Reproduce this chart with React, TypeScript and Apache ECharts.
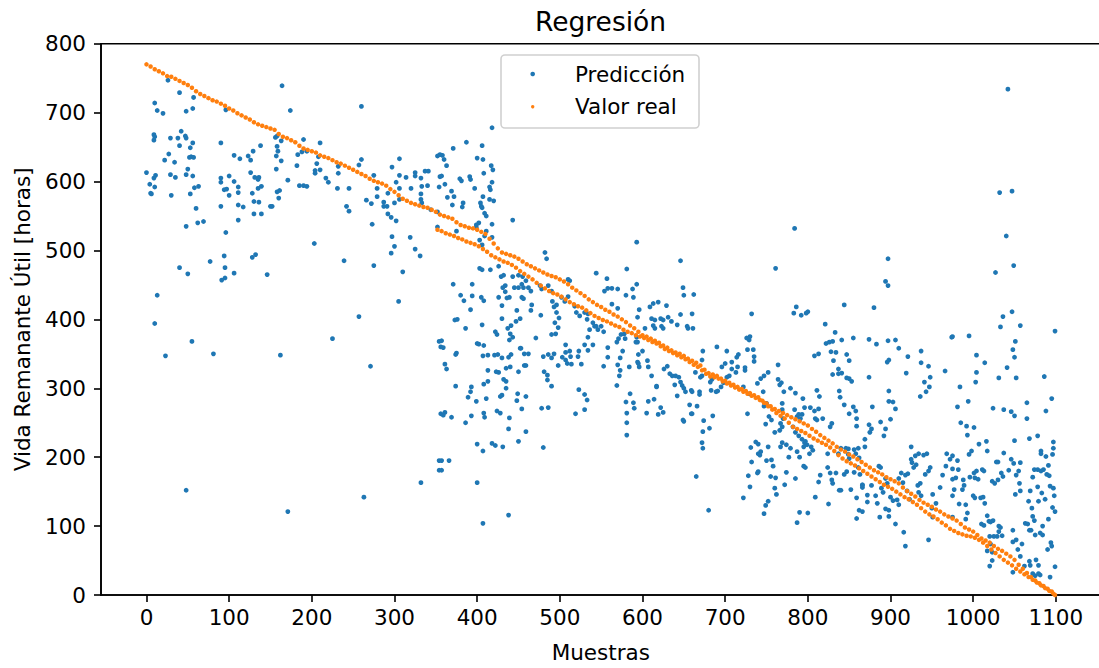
import React, { useEffect, useRef } from "react";
import * as echarts from "echarts";

const xTicks = [0, 100, 200, 300, 400, 500, 600, 700, 800, 900, 1000, 1100];

// Predicción (blue), grouped by x range
const pred0to150 = [[26,747],[40,729],[10,714],[57,722],[13,703],[20,699],[48,702],[56,706],[96,704],[42,673],[9,668],[10,665],[9,660],[29,663],[38,663],[47,666],[48,663],[40,652],[53,649],[56,656],[27,640],[22,631],[34,628],[54,636],[57,635],[52,635],[50,618],[0,613],[11,609],[9,605],[29,610],[35,606],[48,610],[56,608],[4,596],[10,592],[5,583],[6,582],[30,580],[58,591],[63,593],[53,582],[60,561],[48,535],[62,540],[69,542],[90,656],[106,638],[113,633],[123,637],[129,644],[126,631],[138,652],[90,605],[90,599],[100,608],[94,588],[97,589],[106,600],[111,592],[100,580],[111,584],[126,613],[131,606],[136,606],[135,603],[139,593],[135,590],[128,583],[130,571],[136,570],[117,563],[111,566],[90,564],[130,553],[139,553],[111,544],[96,526],[150,564],[40,475],[50,466],[77,484],[94,492],[95,475],[91,457],[95,460],[106,467],[128,490],[132,494],[146,465],[13,435],[10,394],[55,368],[23,347],[81,350],[48,152]];

const pred150to356 = [[164,739],[174,703],[260,709],[156,664],[158,666],[163,659],[158,651],[159,644],[157,637],[163,630],[157,618],[171,602],[158,585],[161,587],[160,576],[152,564],[190,661],[183,639],[188,643],[194,644],[182,623],[185,594],[190,594],[194,593],[210,656],[208,636],[206,626],[204,616],[204,612],[210,617],[217,605],[220,599],[232,622],[232,612],[231,590],[245,590],[242,564],[245,557],[257,624],[260,632],[266,573],[272,568],[275,609],[279,590],[279,578],[273,538],[287,570],[287,564],[291,564],[292,583],[297,621],[292,553],[296,548],[302,543],[300,569],[306,633],[306,609],[302,599],[306,590],[306,574],[314,606],[320,590],[325,613],[325,608],[332,605],[337,615],[341,615],[333,593],[340,594],[332,582],[332,574],[333,569],[344,559],[352,637],[355,639],[355,607],[354,592],[352,556],[352,534],[297,520],[300,506],[296,496],[319,519],[325,502],[331,492],[203,510],[239,485],[275,478],[310,469],[305,426],[257,404],[225,372],[162,348],[271,332],[354,368],[356,360],[356,263],[354,195],[354,181],[332,163],[263,142],[171,121]];

const pred356to560 = [[418,678],[387,657],[371,648],[406,652],[358,638],[360,632],[363,623],[400,634],[407,632],[417,623],[419,617],[357,608],[408,612],[379,604],[381,601],[391,607],[392,603],[361,596],[418,599],[397,590],[415,592],[416,588],[369,586],[372,578],[364,577],[407,578],[415,574],[420,572],[383,569],[382,563],[370,566],[404,569],[405,564],[406,562],[409,554],[411,550],[399,537],[399,533],[402,540],[418,538],[443,544],[375,528],[411,528],[409,521],[418,519],[403,515],[406,508],[482,497],[484,488],[403,474],[406,472],[416,472],[426,477],[429,462],[432,464],[434,449],[431,446],[434,440],[436,431],[426,432],[430,420],[443,462],[445,446],[450,446],[454,451],[456,446],[450,464],[455,462],[459,456],[462,446],[465,441],[454,432],[456,430],[439,432],[448,413],[452,401],[447,397],[466,421],[465,413],[477,406],[471,373],[441,391],[422,382],[424,378],[430,401],[437,387],[440,379],[443,374],[439,370],[406,392],[453,358],[452,358],[457,350],[462,350],[457,333],[441,349],[438,345],[430,344],[425,349],[421,348],[413,348],[407,347],[408,362],[402,364],[413,326],[426,323],[423,324],[435,329],[440,331],[450,324],[459,333],[408,306],[413,310],[432,313],[435,310],[435,300],[430,290],[428,288],[411,285],[399,281],[389,287],[392,295],[393,302],[374,303],[386,250],[393,260],[369,258],[408,264],[409,258],[424,267],[428,264],[439,257],[449,292],[448,282],[454,270],[459,288],[438,241],[459,237],[450,223],[431,215],[418,220],[422,217],[400,219],[407,209],[400,163],[407,104],[438,116],[480,214],[478,271],[486,272],[481,324],[485,319],[485,312],[490,303],[480,346],[486,349],[490,344],[493,350],[498,333],[503,345],[507,352],[512,354],[507,341],[509,336],[513,346],[514,335],[523,354],[522,346],[526,335],[530,363],[534,355],[540,363],[507,363],[490,378],[495,379],[498,388],[499,402],[494,395],[496,410],[496,421],[491,426],[493,418],[486,449],[490,441],[476,449],[478,444],[502,432],[510,433],[506,426],[510,458],[512,456],[518,419],[520,410],[524,405],[530,410],[533,400],[534,408],[540,395],[542,390],[544,390],[546,385],[550,390],[553,382],[536,385],[534,374],[544,467],[557,459],[558,445],[554,441],[558,359],[553,332],[558,345],[519,263],[523,298],[530,291],[533,283],[530,269],[357,369],[359,359],[361,335],[363,328],[375,351],[374,349],[357,195],[357,181],[366,195],[400,365],[394,451],[394,434],[371,451],[380,435],[384,427],[392,414],[373,399],[376,400],[386,387],[405,432],[408,427],[361,265],[359,261]];

const pred560to770 = [[593,512],[581,473],[646,485],[761,474],[593,451],[588,444],[580,435],[589,432],[649,446],[650,435],[662,436],[563,445],[570,444],[563,422],[570,416],[596,414],[594,403],[609,418],[613,423],[619,425],[611,401],[615,399],[622,401],[625,399],[629,420],[631,403],[635,397],[646,407],[660,408],[642,392],[654,390],[655,387],[661,387],[613,391],[615,387],[623,390],[625,387],[603,387],[593,374],[594,367],[592,367],[569,367],[571,372],[574,378],[579,372],[578,379],[576,354],[573,344],[595,349],[600,354],[594,338],[570,334],[573,326],[572,318],[569,304],[584,331],[595,336],[596,331],[606,340],[607,331],[611,318],[617,302],[626,328],[630,332],[633,321],[636,318],[639,305],[640,318],[644,316],[646,309],[648,304],[642,289],[650,300],[652,295],[659,297],[660,295],[650,252],[657,276],[660,263],[666,274],[669,295],[669,291],[672,318],[670,316],[672,341],[673,354],[664,323],[684,313],[682,309],[683,297],[690,360],[689,295],[691,296],[695,302],[698,308],[702,316],[705,318],[696,331],[700,336],[708,338],[708,328],[714,345],[716,349],[715,331],[713,323],[702,354],[724,330],[724,326],[726,373],[729,370],[730,375],[727,356],[734,356],[732,408],[735,346],[735,339],[722,302],[729,292],[727,263],[739,307],[743,314],[747,318],[752,323],[747,274],[750,278],[746,295],[764,334],[764,313],[766,305],[768,308],[771,295],[753,259],[756,254],[749,248],[760,236],[766,239],[767,249],[769,269],[770,256],[767,215],[737,222],[740,219],[743,208],[740,205],[742,203],[731,214],[732,193],[728,173],[730,157],[722,141],[740,179],[739,177],[752,215],[750,195],[756,196],[758,187],[755,172],[761,170],[760,155],[762,146],[752,136],[749,130],[747,118],[680,123],[665,172],[672,221],[673,213],[673,237],[681,242],[674,253],[649,254],[659,263],[685,260],[619,262],[625,265],[622,272],[605,264],[607,281],[614,284],[617,303],[581,264],[581,250],[581,232],[585,292],[580,280],[589,279],[590,271]];

const pred770to975 = [[784,532],[897,488],[894,455],[897,449],[786,418],[783,409],[792,406],[798,409],[800,411],[844,421],[880,417],[821,393],[822,365],[826,367],[830,368],[833,381],[841,370],[855,373],[874,371],[883,364],[897,369],[906,370],[910,358],[921,346],[937,354],[937,337],[946,332],[948,316],[966,325],[974,374],[808,347],[813,350],[828,353],[834,352],[831,340],[830,320],[837,328],[837,321],[841,322],[847,349],[850,340],[847,315],[850,314],[853,310],[874,316],[896,338],[898,341],[919,322],[941,309],[943,295],[936,288],[947,302],[779,300],[785,293],[811,297],[814,288],[794,285],[838,296],[839,287],[844,276],[850,263],[855,273],[858,267],[859,256],[859,245],[878,273],[898,296],[898,281],[903,280],[906,270],[900,255],[888,251],[894,241],[892,231],[874,247],[877,241],[875,236],[869,226],[869,215],[861,213],[858,205],[862,199],[856,211],[849,212],[846,213],[840,213],[837,205],[849,204],[850,198],[827,244],[829,249],[818,256],[811,254],[813,270],[808,267],[803,272],[796,272],[793,262],[784,269],[789,262],[782,244],[787,259],[791,256],[785,236],[789,231],[793,226],[796,221],[799,218],[804,215],[806,210],[802,205],[797,223],[795,215],[809,256],[769,278],[769,244],[769,221],[774,218],[779,213],[777,200],[774,178],[787,208],[790,200],[795,187],[797,185],[785,169],[815,174],[813,164],[824,205],[824,185],[827,177],[829,167],[830,162],[840,152],[834,177],[844,175],[847,179],[852,153],[856,178],[861,185],[863,175],[866,160],[859,141],[866,156],[866,159],[862,123],[866,121],[872,145],[877,159],[882,144],[884,133],[886,187],[888,185],[889,155],[891,149],[894,169],[896,162],[900,142],[903,137],[894,125],[898,123],[910,169],[913,177],[915,163],[918,174],[921,176],[920,151],[923,139],[908,138],[910,131],[925,197],[926,192],[925,215],[930,202],[934,205],[928,185],[931,189],[933,159],[936,162],[942,175],[946,180],[948,185],[940,203],[944,205],[934,149],[937,144],[951,146],[955,133],[950,126],[951,113],[968,205],[972,197],[967,187],[963,174],[960,156],[946,80],[918,71],[906,103],[916,91],[787,105],[790,120],[800,119],[825,132],[838,152],[809,142],[772,160],[859,111],[887,113],[898,114],[872,135]];

const pred975to1100 = [[1042,734],[1032,584],[1047,586],[1040,521],[1049,478],[1027,468],[1047,411],[1036,404],[1033,389],[1057,391],[1099,383],[1051,368],[1048,356],[1050,345],[1041,330],[1031,315],[1052,315],[1086,317],[1095,285],[1088,267],[1065,279],[1065,256],[995,376],[975,375],[1004,348],[1004,323],[1003,309],[1014,337],[984,302],[981,273],[994,281],[1024,271],[1037,269],[1046,266],[1050,260],[985,250],[992,245],[993,232],[1001,243],[1007,219],[1016,223],[1017,209],[1068,227],[1078,231],[1050,224],[1037,206],[1028,193],[1030,193],[1046,197],[1049,191],[1057,192],[1082,209],[1082,205],[1088,201],[1096,204],[1097,213],[1097,222],[1091,188],[998,209],[995,204],[975,202],[981,195],[975,183],[982,182],[988,167],[989,159],[996,171],[1001,177],[1004,180],[1011,182],[1013,180],[1002,170],[1006,168],[979,170],[975,168],[977,153],[987,153],[1000,144],[1002,141],[1009,141],[1012,142],[1014,133],[1023,165],[1026,162],[1030,167],[1034,177],[1036,172],[1043,181],[1052,174],[1055,180],[1056,162],[1057,151],[1051,146],[1069,151],[1072,171],[1074,182],[1078,182],[1082,180],[1085,182],[1089,175],[1092,173],[1093,158],[1078,157],[1083,148],[1087,139],[1097,155],[1098,144],[1096,127],[1099,121],[1067,136],[1079,136],[1071,126],[1072,114],[1074,108],[1063,104],[1066,103],[1068,94],[1070,94],[1075,87],[1081,90],[1084,87],[1091,110],[1084,100],[1094,76],[1095,71],[1090,66],[1099,41],[1093,26],[1017,115],[1019,107],[1021,106],[1024,108],[1010,103],[1013,101],[1031,100],[1033,98],[1031,92],[1035,86],[1029,85],[1025,85],[1020,85],[1021,74],[1017,64],[1023,62],[1020,42],[1023,50],[1048,77],[1052,80],[1059,74],[1048,94],[1054,66],[1057,56],[1048,33],[1062,42],[1068,49],[1069,43],[1076,51],[1079,43],[1072,31],[1075,28],[1079,31],[1081,29],[991,110],[993,119],[983,132],[991,131],[975,113],[975,144]];

// Valor real (orange): single trace x = 0..350 (step 5)
const realSingleX0 = 0;
const realSingle = [770,767,763,760,757,753,752,749,746,743,740,736,731,727,724,721,718,716,713,710,706,703,699,696,693,690,686,683,681,679,677,675,669,665,663,660,657,652,648,646,644,642,638,636,634,631,628,626,623,620,617,614,611,608,604,601,599,597,594,589,585,580,575,572,569,567,565,563,562,559,556];

// upper strand x = 355..1095 (step 5)
const realUpperX0 = 355;
const realUpper = [552,550,548,546,541,537,535,533,532,530,527,524,517,510,503,497,495,493,491,488,484,480,477,474,471,468,465,463,461,458,455,451,446,442,438,434,429,425,421,418,414,411,407,404,400,396,391,387,382,377,375,372,369,366,362,359,355,352,350,347,343,340,337,333,327,322,320,318,314,311,308,305,302,299,296,293,290,287,282,278,274,270,267,264,261,258,255,252,249,246,241,237,232,228,224,220,215,211,208,204,201,197,193,189,185,181,178,175,171,168,165,162,156,151,147,143,138,134,131,128,124,121,117,114,111,108,103,98,95,92,87,82,79,76,71,67,64,60,56,51,44,38,32,26,21,17,13,9,5];

// lower strand x = 352..1097 (step 5)
const realLowerX0 = 352;
const realLower = [530,528,525,523,521,518,516,513,511,509,506,502,498,493,490,487,484,482,479,475,470,466,462,458,453,449,445,441,438,436,433,429,425,422,419,417,413,409,405,402,399,397,394,391,389,385,382,380,377,375,373,370,367,365,361,357,354,351,348,345,342,338,334,331,326,321,317,316,314,310,307,304,301,298,295,292,289,286,283,279,274,269,264,260,256,250,244,241,238,235,231,227,224,221,218,214,209,203,198,194,191,188,184,180,176,172,168,164,160,157,154,150,146,142,139,135,131,126,121,117,114,110,105,101,96,93,90,88,86,85,83,80,76,71,66,61,56,51,47,43,38,34,30,26,22,18,14,10,6,2];

const FONT = "DejaVu Sans";
const TICK_FONT = 21.5;

export default function App() {
  const ref = useRef<HTMLDivElement>(null);
  useEffect(() => {
    document.body.style.margin = "0";
    const chart = echarts.init(ref.current!, null, { renderer: "svg" });
    const pred = [
      ...pred0to150,
      ...pred150to356,
      ...pred356to560,
      ...pred560to770,
      ...pred770to975,
      ...pred975to1100,
    ];
    const toPairs = (x0: number, ys: number[]) => ys.map((y, i) => [x0 + i * 5, y]);
    const real = [
      ...toPairs(realSingleX0, realSingle),
      ...toPairs(realUpperX0, realUpper),
      ...toPairs(realLowerX0, realLower),
      [1099, 0],
    ];
    chart.setOption({
      animation: false,
      backgroundColor: "#ffffff",
      textStyle: { fontFamily: FONT },
      grid: {
        left: 101,
        top: 43.7,
        right: 5.5,
        bottom: 71.3,
        show: true,
        borderColor: "#000",
        borderWidth: 1.6,
        backgroundColor: "transparent",
      },
      xAxis: {
        type: "value",
        min: -55,
        max: 1154,
        splitLine: { show: false },
        axisLine: { show: true, onZero: false, lineStyle: { color: "#000", width: 1.6 } },
        axisTick: { show: true, customValues: xTicks, length: 7, lineStyle: { color: "#000", width: 1.6 } },
        axisLabel: {
          customValues: xTicks,
          color: "#000",
          fontSize: TICK_FONT,
          fontFamily: FONT,
          margin: 11,
          formatter: (v: number) => String(v),
        },
        name: "Muestras",
        nameLocation: "middle",
        nameGap: 46,
        nameTextStyle: { color: "#000", fontSize: TICK_FONT, fontFamily: FONT },
      },
      yAxis: {
        type: "value",
        min: 0,
        max: 800,
        interval: 100,
        splitLine: { show: false },
        axisLine: { show: true, onZero: false, lineStyle: { color: "#000", width: 1.6 } },
        axisTick: { show: true, length: 7, lineStyle: { color: "#000", width: 1.6 } },
        axisLabel: { color: "#000", fontSize: TICK_FONT, fontFamily: FONT, margin: 15, formatter: (v: number) => String(v) },
        name: "Vida Remanante Útil [horas]",
        nameLocation: "middle",
        nameGap: 68,
        nameTextStyle: { color: "#000", fontSize: TICK_FONT, fontFamily: FONT },
      },
      series: [
        {
          name: "Predicción",
          type: "scatter",
          data: pred,
          symbolSize: 4.8,
          itemStyle: { color: "#1f77b4", opacity: 1 },
          z: 2,
        },
        {
          name: "Valor real",
          type: "scatter",
          data: real,
          symbolSize: 4.5,
          itemStyle: { color: "#ff7f0e", opacity: 1 },
          z: 3,
        },
      ],
      graphic: [
        {
          type: "text",
          x: 600.5,
          y: 21,
          style: { text: "Regresión", fontSize: 26.5, fontFamily: FONT, fill: "#000", align: "center", verticalAlign: "middle" },
          z: 100,
        },
        {
          type: "rect",
          shape: { x: 501, y: 55, width: 198, height: 73, r: 4 },
          style: { fill: "rgba(255,255,255,0.8)", stroke: "#d0d0d0", lineWidth: 1.6 },
          z: 100,
        },
        { type: "circle", shape: { cx: 532.7, cy: 74, r: 2.3 }, style: { fill: "#1f77b4" }, z: 101 },
        { type: "circle", shape: { cx: 532.7, cy: 106.7, r: 1.7 }, style: { fill: "#ff7f0e" }, z: 101 },
        {
          type: "text",
          x: 575,
          y: 74,
          style: { text: "Predicción", fontSize: TICK_FONT, fontFamily: FONT, fill: "#000", align: "left", verticalAlign: "middle" },
          z: 101,
        },
        {
          type: "text",
          x: 575,
          y: 106.7,
          style: { text: "Valor real", fontSize: TICK_FONT, fontFamily: FONT, fill: "#000", align: "left", verticalAlign: "middle" },
          z: 101,
        },
      ],
    });
    return () => chart.dispose();
  }, []);
  return (
    <div style={{ width: 1099, height: 668, overflow: "hidden", position: "relative" }}>
      <div ref={ref} style={{ width: 1106, height: 668 }} />
    </div>
  );
}
